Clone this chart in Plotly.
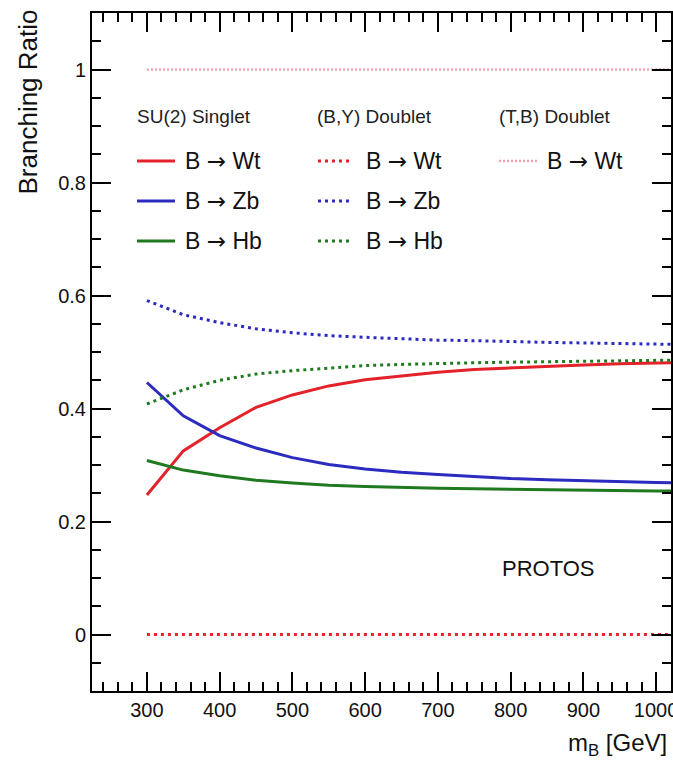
import plotly.graph_objects as go

# ---------------- data ----------------
mass = [300, 350, 400, 450, 500, 550, 600, 650, 700, 750, 800, 850, 900, 950, 1000, 1050]

singlet_wt = [0.247, 0.325, 0.366, 0.402, 0.424, 0.440, 0.451, 0.458, 0.464, 0.469, 0.472, 0.475, 0.477, 0.479, 0.480, 0.482]
singlet_zb = [0.446, 0.387, 0.352, 0.330, 0.313, 0.301, 0.293, 0.287, 0.283, 0.279, 0.276, 0.274, 0.272, 0.270, 0.269, 0.268]
singlet_hb = [0.308, 0.291, 0.281, 0.273, 0.268, 0.264, 0.262, 0.260, 0.259, 0.258, 0.257, 0.256, 0.255, 0.255, 0.254, 0.254]

by_wt = [0.0] * len(mass)
by_zb = [0.591, 0.566, 0.552, 0.541, 0.534, 0.529, 0.526, 0.523, 0.521, 0.520, 0.518, 0.517, 0.516, 0.515, 0.514, 0.513]
by_hb = [0.408, 0.433, 0.450, 0.461, 0.467, 0.472, 0.476, 0.478, 0.480, 0.481, 0.482, 0.483, 0.484, 0.485, 0.486, 0.486]

tb_wt = [1.0] * len(mass)

y_ticks = [0, 0.2, 0.4, 0.6, 0.8, 1]
y_tick_text = ["0", "0.2", "0.4", "0.6", "0.8", "1"]
x_ticks = [300, 400, 500, 600, 700, 800, 900, 1000]

group_titles = ["SU(2) Singlet", "(B,Y) Doublet", "(T,B) Doublet"]
ARROW = '<span style="font-family:DejaVu Sans">\u2192</span>'
decay_labels = ["B " + ARROW + " Wt", "B " + ARROW + " Zb", "B " + ARROW + " Hb"]

# ---------------- style ----------------
RED = "#e3222a"
BLUE = "#2b2bbf"
GREEN = "#1f7a1f"
PINK = "#f4a3ad"
FONT = "Liberation Sans, Arial, Helvetica, sans-serif"
DOT = "3px,4px"

W, H = 673, 760
L, R, T, B = 92, 2, 13, 69
PW, PH = W - L - R, H - T - B


def px(x):
    return (x - L) / PW


def py(y):
    return 1 - (y - T) / PH


fig = go.Figure()

series = [
    (singlet_wt, RED, "solid", 3),
    (singlet_zb, BLUE, "solid", 3),
    (singlet_hb, GREEN, "solid", 3),
    (by_wt, RED, DOT, 3),
    (by_zb, BLUE, DOT, 3),
    (by_hb, GREEN, DOT, 3),
    (tb_wt, PINK, "2px,2px", 2.5),
]
for ys, col, dash, w in series:
    fig.add_trace(go.Scatter(x=mass, y=ys, mode="lines",
                             line=dict(color=col, dash=dash, width=w),
                             showlegend=False, hoverinfo="skip"))

# ---------------- hand-made legend ----------------
shapes = []
annotations = []
col_title_x = [135, 315, 497]
col_line_x = [(137, 175), (318, 353), (499, 537)]
col_text_x = [183, 364, 545]
row_y = [161, 201, 241]
col_styles = [
    [(RED, "solid", 3), (BLUE, "solid", 3), (GREEN, "solid", 3)],
    [(RED, DOT, 3), (BLUE, DOT, 3), (GREEN, DOT, 3)],
    [(PINK, "2px,2px", 2.5)],
]
for c in range(3):
    annotations.append(dict(x=px(col_title_x[c]), y=py(117), xref="paper", yref="paper",
                            text=group_titles[c], showarrow=False, xanchor="left",
                            yanchor="middle", font=dict(size=19, color="#222", family=FONT)))
    for r, (col, dash, w) in enumerate(col_styles[c]):
        x0, x1 = col_line_x[c]
        shapes.append(dict(type="line", xref="paper", yref="paper",
                           x0=px(x0), x1=px(x1), y0=py(row_y[r]), y1=py(row_y[r]),
                           line=dict(color=col, dash=dash, width=w)))
        annotations.append(dict(x=px(col_text_x[c]), y=py(row_y[r]), xref="paper", yref="paper",
                                text=decay_labels[r], showarrow=False, xanchor="left",
                                yanchor="middle", font=dict(size=23, color="#111", family=FONT)))

annotations.append(dict(x=px(500), y=py(568), xref="paper", yref="paper", text="PROTOS",
                        showarrow=False, xanchor="left", yanchor="middle",
                        font=dict(size=22, color="#111", family=FONT)))

# axis titles
annotations.append(dict(x=px(28), y=py(8), xref="paper", yref="paper", text="Branching Ratio",
                        showarrow=False, textangle=-90, xanchor="center", yanchor="top",
                        font=dict(size=26, color="#111", family=FONT)))
annotations.append(dict(x=px(669), y=py(745), xref="paper", yref="paper",
                        text="m<sub>B</sub> [GeV]", showarrow=False, xanchor="right",
                        yanchor="middle", font=dict(size=24, color="#111", family=FONT)))

axis_common = dict(showline=True, linecolor="black", linewidth=2, mirror="allticks",
                   ticks="inside", ticklen=19, tickwidth=2, tickcolor="black",
                   showgrid=False, zeroline=False, ticklabeloverflow="allow",
                   automargin=False,
                   tickfont=dict(size=20, color="#111", family=FONT))

fig.update_xaxes(range=[224.5, 1020.5], tickvals=x_ticks,
                 minor=dict(dtick=20, tick0=0, ticks="inside", ticklen=9, tickwidth=2,
                            tickcolor="black", showgrid=False),
                 **axis_common)
fig.update_yaxes(range=[-0.1, 1.1], tickvals=y_ticks, ticktext=y_tick_text,
                 minor=dict(dtick=0.05, tick0=0, ticks="inside", ticklen=9, tickwidth=2,
                            tickcolor="black", showgrid=False),
                 **axis_common)

fig.update_layout(width=W, height=H, margin=dict(l=L, r=R, t=T, b=B),
                  paper_bgcolor="white", plot_bgcolor="white",
                  shapes=shapes, annotations=annotations, showlegend=False)

fig.write_html("out.html")
